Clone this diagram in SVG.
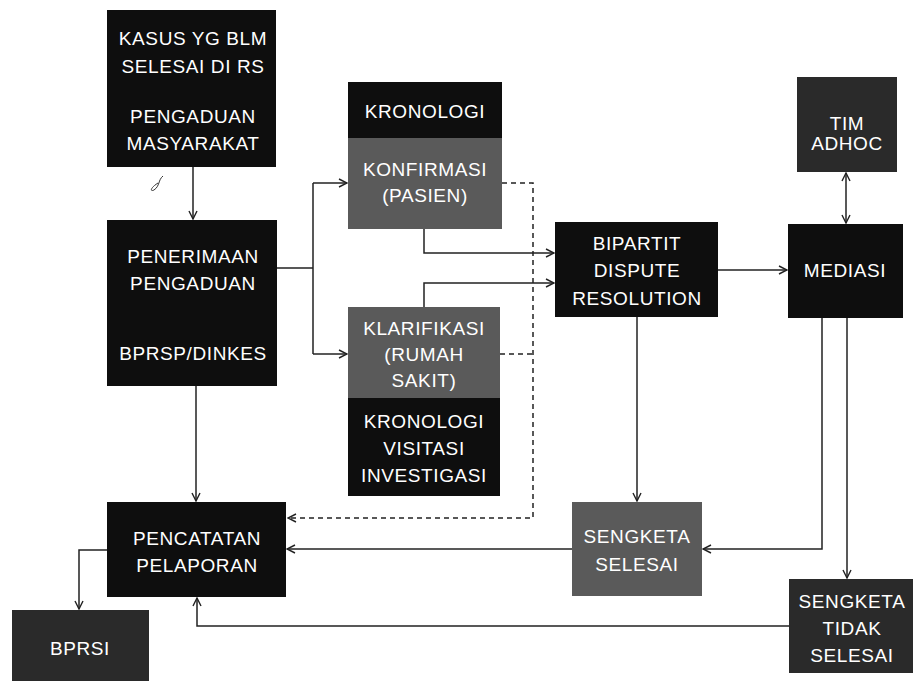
<svg xmlns="http://www.w3.org/2000/svg" width="914" height="681" viewBox="0 0 914 681">
<defs>
<marker id="arr" viewBox="0 0 10 10" refX="9" refY="5" markerWidth="10" markerHeight="10" markerUnits="userSpaceOnUse" orient="auto-start-reverse">
<path d="M1,1 L9,5 L1,9" fill="none" stroke="#222" stroke-width="1.4"/>
</marker>
<style>
.blk{fill:#0e0e0e}
.dg{fill:#2a2a2a}
.gr{fill:#5a5a5a}
text{font-family:"Liberation Sans",Arial,sans-serif;font-size:19px;fill:#fff;text-anchor:middle;letter-spacing:0.6px}
.ln{fill:none;stroke:#222;stroke-width:1.5}
.ar{marker-end:url(#arr)}
.ds{stroke-dasharray:5 4}
</style>
</defs>
<rect width="914" height="681" fill="#fff"/>

<g id="connectors">
<path class="ln ar" d="M193,167 V219"/>
<path class="ln" d="M277,268 H313 M313,183 V354"/>
<path class="ln ar" d="M313,183 H347"/>
<path class="ln ar" d="M313,354 H347"/>
<path class="ln ar" d="M424,229 V253 H554"/>
<path class="ln ar" d="M424,307 V283 H554"/>
<path class="ln ds ar" d="M502,183 H533 V518 H288"/>
<path class="ln ds" d="M500,354 H533"/>
<path class="ln ar" d="M718,270 H787"/>
<path class="ln ar" d="M846,173 V223" style="marker-start:url(#arr)"/>
<path class="ln ar" d="M637,317 V501"/>
<path class="ln ar" d="M822,318 V549 H703"/>
<path class="ln ar" d="M847,318 V578"/>
<path class="ln ar" d="M572,549 H287"/>
<path class="ln ar" d="M789,626 H197 V598"/>
<path class="ln ar" d="M196,386 V501"/>
<path class="ln ar" d="M107,550 H79 V609"/>
<path fill="none" stroke="#333" stroke-width="1" d="M158,183 C150,188 150,192 154,190 C160,186 158,180 163,176"/>
</g>

<g id="kasus">
<rect class="blk" x="107" y="10" width="169" height="157"/>
<text x="193" y="45">KASUS YG BLM</text>
<text x="193" y="73">SELESAI DI RS</text>
<text x="193" y="123">PENGADUAN</text>
<text x="193" y="150">MASYARAKAT</text>
</g>

<g id="penerimaan">
<rect class="blk" x="107" y="220" width="170" height="166"/>
<text x="193" y="263">PENERIMAAN</text>
<text x="193" y="290">PENGADUAN</text>
<text x="193" y="360">BPRSP/DINKES</text>
</g>

<g id="konfirmasi">
<rect class="blk" x="348" y="82" width="154" height="56"/>
<rect class="gr" x="348" y="138" width="154" height="91"/>
<text x="425" y="118">KRONOLOGI</text>
<text x="425" y="176">KONFIRMASI</text>
<text x="425" y="202">(PASIEN)</text>
</g>

<g id="klarifikasi">
<rect class="gr" x="348" y="307" width="152" height="91"/>
<rect class="blk" x="348" y="398" width="152" height="98"/>
<text x="424" y="335">KLARIFIKASI</text>
<text x="424" y="361">(RUMAH</text>
<text x="424" y="387">SAKIT)</text>
<text x="424" y="428">KRONOLOGI</text>
<text x="424" y="455">VISITASI</text>
<text x="424" y="482">INVESTIGASI</text>
</g>

<g id="bipartit">
<rect class="blk" x="555" y="222" width="163" height="95"/>
<text x="637" y="250">BIPARTIT</text>
<text x="637" y="277">DISPUTE</text>
<text x="637" y="305">RESOLUTION</text>
</g>

<g id="timadhoc">
<rect class="dg" x="797" y="77" width="100" height="95"/>
<text x="847" y="130">TIM</text>
<text x="847" y="150">ADHOC</text>
</g>

<g id="mediasi">
<rect class="blk" x="788" y="224" width="115" height="94"/>
<text x="845" y="277">MEDIASI</text>
</g>

<g id="sengketaselesai">
<rect class="gr" x="572" y="502" width="130" height="94"/>
<text x="637" y="543">SENGKETA</text>
<text x="637" y="571">SELESAI</text>
</g>

<g id="sengketatidak">
<rect class="dg" x="789" y="579" width="124" height="94"/>
<text x="852" y="608">SENGKETA</text>
<text x="852" y="635">TIDAK</text>
<text x="852" y="662">SELESAI</text>
</g>

<g id="pencatatan">
<rect class="blk" x="107" y="502" width="179" height="95"/>
<text x="197" y="545">PENCATATAN</text>
<text x="197" y="572">PELAPORAN</text>
</g>

<g id="bprsi">
<rect class="dg" x="12" y="610" width="137" height="71"/>
<text x="80" y="655">BPRSI</text>
</g>
</svg>
